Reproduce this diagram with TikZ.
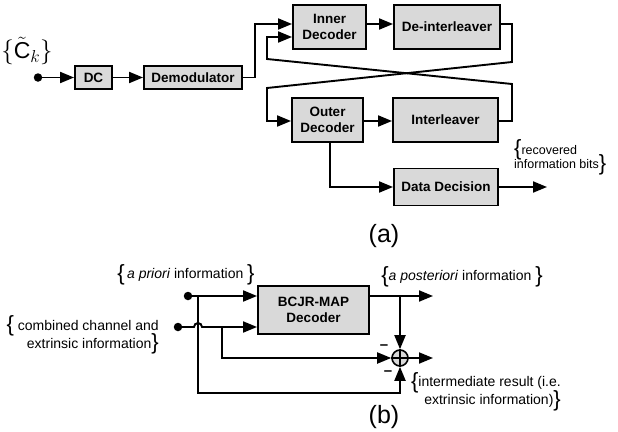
\documentclass[tikz,border=0pt]{standalone}
\usepackage{fontspec}
\setmainfont{Liberation Sans}
\usetikzlibrary{arrows.meta}
\definecolor{boxgray}{HTML}{D9D9D9}
\newcommand{\mylb}{\smash{\raisebox{-1.5pt}{\fontsize{22}{22}\selectfont\{}}}
\newcommand{\myrb}{\smash{\raisebox{-1.5pt}{\fontsize{22}{22}\selectfont\}}}}
\begin{document}
\begin{tikzpicture}[x=1pt,y=-1pt,
  blk/.style={draw=black, line width=1.9pt, fill=boxgray, font=\fontsize{13.5}{15.5}\selectfont\bfseries, align=center, inner sep=0pt},
  wire/.style={line width=1.9pt},
  conn/.style={line width=1.9pt, -{Triangle[length=14pt,width=11pt]}},
  lbl/.style={font=\fontsize{14}{18}\selectfont, inner sep=0pt},
  dotc/.style={circle, fill=black, inner sep=0pt, minimum size=8.5pt},
]
\useasboundingbox (0,0) rectangle (618,431);
% ---------------- (a)
\node[font=\fontsize{23}{25}\selectfont, inner sep=0pt] (ck) at (27,51) {$\{\tilde{\mathrm{C}}_k\}$};
\node[dotc] (in) at (38,77.5) {};
\node[blk, minimum width=37pt, minimum height=23pt] (dc) at (93.5,77.5) {DC};
\node[blk, minimum width=98pt, minimum height=23pt] (dem) at (193,77.5) {Demodulator};
\node[blk, minimum width=73pt, minimum height=44pt] (inner) at (329.5,27) {Inner\\Decoder};
\node[blk, minimum width=106pt, minimum height=44pt] (deint) at (447,27) {De-interleaver};
\node[blk, minimum width=71pt, minimum height=44pt] (outer) at (327.5,120) {Outer\\Decoder};
\node[blk, minimum width=105pt, minimum height=44pt] (intl) at (445.5,120) {Interleaver};
\node[blk, minimum width=104pt, minimum height=37pt] (dd) at (446,187) {Data Decision};
\coordinate (out1) at (547,187);

\draw[conn] (in.center) -- (dc.west);
\draw[conn] (dc.east) -- (dem.west);
\draw[conn] (dem.east) -- (255,77.5) |- ([yshift=3pt]inner.west);
\draw[conn] ([yshift=3pt]inner.east) -- ([yshift=3pt]deint.west);
\draw[conn] ([yshift=3pt]deint.east) -| (512,62) -- (267,88) |- ([yshift=-1pt]outer.west);
\draw[conn] ([yshift=-1pt]intl.east) -| (512,84) -- (267,59) |- ([yshift=-10pt]inner.west);
\draw[conn] ([yshift=-1pt]outer.east) -- ([yshift=-1pt]intl.west);
\draw[conn] ([xshift=2.5pt]outer.south) |- (dd.west);
\draw[conn] (dd.east) -- (out1);

\node[font=\fontsize{12.5}{14.5}\selectfont, inner sep=0pt, align=left, anchor=west] (rec) at (514,157) {\mylb recovered\\information bits\myrb};
\node[font=\fontsize{25}{28}\selectfont, inner sep=0pt] (la) at (384,236) {(a)};

% ---------------- (b)
\node[lbl] (apri) at (186,275) {\mylb\,\textit{a priori} information \myrb};
\node[lbl] (apost) at (462,277) {\mylb\textit{a posteriori} information \myrb};
\node[lbl, align=right, anchor=east] (comb) at (159,334) {\mylb\ combined channel and\\extrinsic information\myrb};
\node[lbl, align=right, anchor=east] (inter) at (561,392) {\mylb intermediate result (i.e.\\extrinsic information)\myrb};
\node[font=\fontsize{25}{28}\selectfont, inner sep=0pt] (lb) at (384,417) {(b)};

\node[blk, minimum width=111pt, minimum height=48pt] (bcjr) at (313.5,310) {BCJR-MAP\\Decoder};
\node[dotc] (p1) at (188,296) {};
\node[dotc] (p2) at (178,327) {};
\node[circle, draw=black, line width=1.6pt, fill=boxgray, minimum size=16pt, inner sep=0pt] (sum) at (400,358) {};
\draw[line width=1.6pt] (sum.north) -- (sum.south) (sum.west) -- (sum.east);
\coordinate (j1) at (198,296);
\coordinate (j2) at (222,327);
\coordinate (j3) at (400,296);
\coordinate (out2) at (433,296);
\coordinate (out3) at (433,358);

\draw[conn] (p1.center) -- (bcjr.west |- p1);
\draw[conn] (p2.center) -- (194,327) arc[start angle=180, end angle=0, radius=4pt] -- (bcjr.west |- p2);
\draw[conn] (j1) -- (198,393) -| (sum.south);
\draw[conn] (j2) |- (sum.west);
\draw[conn] (bcjr.east |- p1) -- (out2);
\draw[conn] (j3) -- (sum.north);
\draw[conn] (sum.east) -- (out3);
\node[font=\fontsize{15}{16}\selectfont\bfseries, inner sep=0pt] (m1) at (384,347) {–};
\node[font=\fontsize{15}{16}\selectfont\bfseries, inner sep=0pt] (m2) at (388,373) {–};
\end{tikzpicture}
\end{document}
